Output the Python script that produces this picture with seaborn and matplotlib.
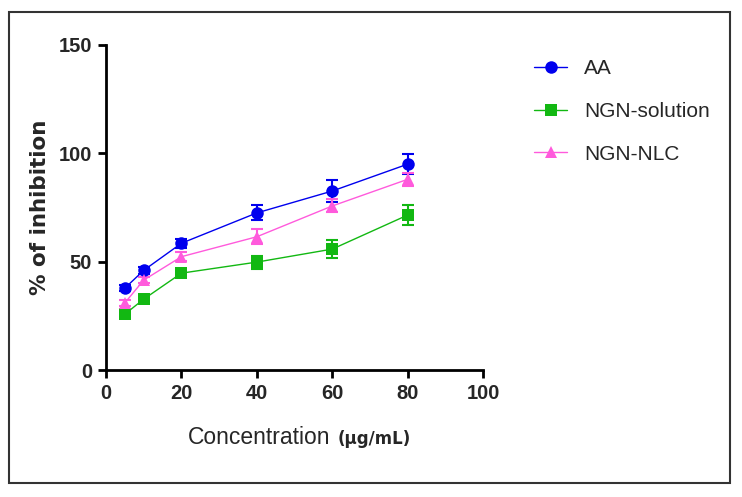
import numpy as np
import pandas as pd
import matplotlib.pyplot as plt
import seaborn as sns
from matplotlib.patches import Rectangle

sns.set_style('ticks')

conc = [5, 10, 20, 40, 60, 80]
series = ['AA', 'NGN-solution', 'NGN-NLC']
aa = [37.8, 46.0, 58.5, 72.5, 82.6, 95.0]
aa_err = [1.5, 1.5, 2.0, 3.5, 5.0, 4.6]
ngn_sol = [25.8, 32.7, 44.7, 49.8, 55.8, 71.5]
ngn_sol_err = [1.5, 1.5, 1.5, 3.0, 4.0, 4.5]
ngn_nlc = [31.0, 41.5, 52.3, 61.5, 75.7, 88.0]
ngn_nlc_err = [1.5, 1.5, 2.0, 3.5, 3.0, 3.0]

colors = {'AA': '#0000EE', 'NGN-solution': '#12B812', 'NGN-NLC': '#FF5ADC'}
markers = {'AA': 'o', 'NGN-solution': 's', 'NGN-NLC': '^'}

df = pd.DataFrame({
    'conc': conc * 3,
    'inhib': aa + ngn_sol + ngn_nlc,
    'err': aa_err + ngn_sol_err + ngn_nlc_err,
    'series': [s for s in series for _ in conc],
})

narrow = ['Liberation Sans Narrow', 'Liberation Sans', 'DejaVu Sans']

fig = plt.figure(figsize=(7.42, 4.97), dpi=100)
ax = fig.add_axes([0.1429, 0.2555, 0.5081, 0.654])

# error bars first so the markers sit on top
for s in series:
    d = df[df['series'] == s]
    ax.errorbar(d['conc'], d['inhib'], yerr=d['err'], fmt='none',
                ecolor=colors[s], elinewidth=1.5, capsize=4, capthick=1.5)

sns.lineplot(data=df, x='conc', y='inhib', hue='series', style='series',
             markers=markers, dashes=False, palette=colors, linewidth=1,
             markersize=9, markeredgewidth=0, ax=ax)

ax.set_xlim(0, 100)
ax.set_ylim(0, 150)
ax.set_xticks([0, 20, 40, 60, 80, 100])
ax.set_yticks([0, 50, 100, 150])
sns.despine(ax=ax)
for sp in ['left', 'bottom']:
    ax.spines[sp].set_linewidth(2)
    ax.spines[sp].set_color('black')
ax.tick_params(axis='both', direction='out', length=6, width=2, color='black',
               labelsize=14.5, pad=4)
for lab in ax.get_xticklabels() + ax.get_yticklabels():
    lab.set_family(narrow)
    lab.set_fontweight('bold')

ax.set_xlabel('')
ax.set_ylabel('% of inhibition', fontsize=15.5, fontweight='bold',
              family=['DejaVu Sans'], labelpad=6)

fig.text(188 / 742, 1 - 444 / 497, 'Concentration', fontsize=16.5,
         family=narrow, ha='left', va='baseline')
fig.text(338 / 742, 1 - 444 / 497, '(\u03bcg/mL)', fontsize=12,
         family=['DejaVu Sans'], fontweight='bold', ha='left', va='baseline')

handles, labels = ax.get_legend_handles_labels()
ax.legend(handles, labels, loc='upper left', bbox_to_anchor=(1.085, 1.015),
          frameon=False, handlelength=1.6, handletextpad=0.8, labelspacing=1.15,
          prop={'family': narrow, 'size': 15})

fig.add_artist(Rectangle((9 / 742, 1 - 483 / 497), 721 / 742, 471 / 497,
                         transform=fig.transFigure, fill=False,
                         edgecolor='#333333', linewidth=1.5))

fig.savefig('out.png', dpi=100)
